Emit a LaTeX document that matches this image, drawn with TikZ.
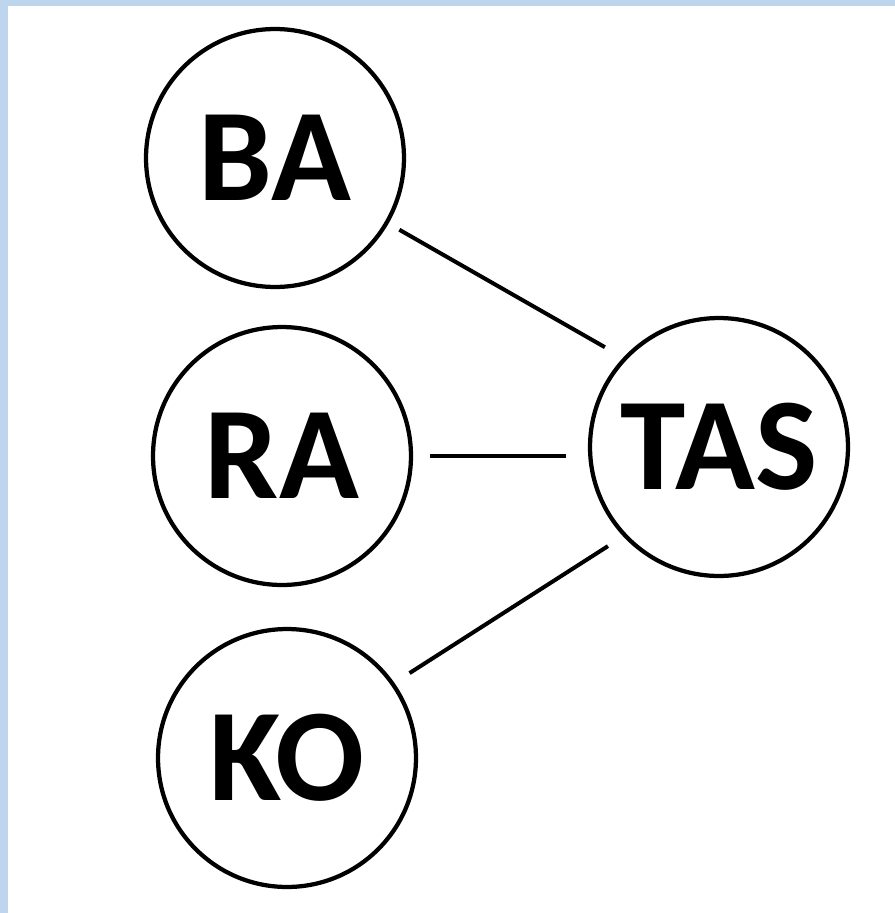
\documentclass[tikz,border=0pt]{standalone}
\usepackage{fontspec}
\setsansfont{Carlito}
\usepackage{tikz}
\usetikzlibrary{arrows,%
                shapes,positioning}
\definecolor{frameblue}{RGB}{189,214,238}

\begin{document}
\begin{tikzpicture}[x=0.02cm,y=-0.02cm,
  vertex/.style={draw,circle,line width=0.085cm,minimum size=5.16cm,inner sep=0pt,
    font=\sffamily\bfseries\fontsize{75}{75}\selectfont},
  link/.style={line width=0.08cm}]
\useasboundingbox (0,0) rectangle (895,913);
\fill[frameblue] (0,0) rectangle (895,913);
\fill[white] (8,6) rectangle (895,913);
%\node[vertex] at (0,0) {};
\node[vertex] (BA) at (275,158) {BA};
\node[vertex] (RA) at (282,456) {RA};
\node[vertex] (KO) at (287,758) {KO};
\node[vertex] (TAS) at (719,447) {TAS};
\draw[link, shorten <=0.25cm, shorten >=0.42cm] (BA.-30) -- (TAS.137);
\draw[link, shorten <=0.34cm, shorten >=0.44cm] (RA.east) -- (RA.east -| TAS.west);
\draw[link, shorten <=0.36cm, shorten >=0.36cm] (KO.35) -- (TAS.-137);
\end{tikzpicture}
\end{document}
